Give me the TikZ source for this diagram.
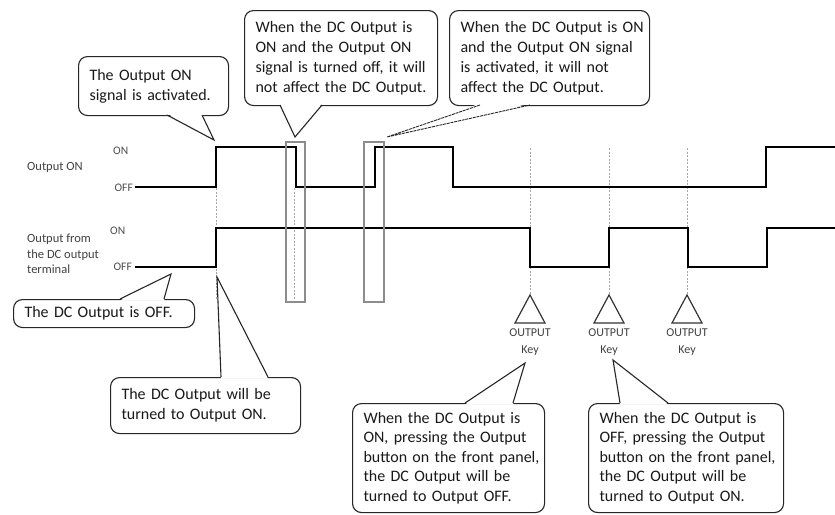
\documentclass[tikz,border=0pt]{standalone}
\usepackage{fontspec}
\setmainfont{Carlito}
\newcommand\cl[1]{\mbox{#1}}
\begin{document}
\begin{tikzpicture}[x=1pt,y=-1pt,
  sig/.style={line width=2.2pt, line join=miter},
  guide/.style={draw=black!35, line width=0.7pt, dash pattern=on 2pt off 1.5pt},
  hilite/.style={draw=black!45, line width=1.8pt},
  lvl/.style={font=\fontsize{11.5}{13}\selectfont, text=black!70, inner sep=0pt},
  rowlbl/.style={font=\fontsize{12.5}{15.5}\selectfont, text=black!75, align=left, inner sep=0pt},
  callbox/.style={draw=black!85, line width=1.1pt, rounded corners=9pt, align=left,
    font=\fontsize{16}{20}\selectfont, text=black!90, inner xsep=11pt, inner ysep=0pt,
    anchor=north west, fill=white},
  ptr/.style={draw=black!85, line width=1.1pt, line join=miter},
  ptrdash/.style={ptr, dash pattern=on 3pt off 0.8pt, line width=0.9pt},
  keytri/.style={draw=black!80, line width=1.2pt, line join=miter},
  keylbl/.style={font=\fontsize{12}{17}\selectfont, align=center, text=black!75, inner sep=0pt}
]
\useasboundingbox (0,0) rectangle (835,514);

% guide lines
\draw[guide] (216,188) -- (216,300);
\draw[guide] (294,188) -- (294,300);
\draw[guide] (530,148) -- (530,295);
\draw[guide] (609,148) -- (609,295);
\draw[guide] (687,148) -- (687,295);

% signals
\draw[sig] (135,187) -- (216,187) -- (216,147) -- (296,147) -- (296,187) -- (375,187)
  -- (375,147) -- (453,147) -- (453,187) -- (766,187) -- (766,147) -- (835,147);
\draw[sig] (135,267) -- (216,267) -- (216,228) -- (530,228) -- (530,267) -- (609,267)
  -- (609,228) -- (688,228) -- (688,267) -- (767,267) -- (767,228) -- (835,228);

% highlight rectangles
\draw[hilite] (286,142) rectangle (305,302);
\draw[hilite] (364,142) rectangle (384,302);

% level and row labels
\node[lvl, anchor=west] (on1) at (113,151) {ON};
\node[lvl, anchor=east] (off1) at (133,188) {OFF};
\node[rowlbl, anchor=west] (row1) at (27,167) {Output ON};
\node[lvl, anchor=west] (on2) at (110,231) {ON};
\node[lvl, anchor=east] (off2) at (132,267) {OFF};
\node[rowlbl, anchor=west] (row2) at (27,254) {Output from\\the DC output\\terminal};

% OUTPUT keys
\foreach \k/\x in {k1/530, k2/609, k3/687}{
  \coordinate (\k top) at (\x,295);
  \draw[keytri] (\k top) -- (\x-15,323) -- (\x+15,323) -- cycle;
  \node[keylbl] (\k lbl) at (\x,342) {OUTPUT\\Key};
}

% callout 1
\node[callbox, text width=128pt, minimum height=59pt] (c1) at (78,56)
  {\cl{The Output ON}\\\cl{signal is activated.}};
\coordinate (t1) at (214,140);
\fill[white] (167,113.5) -- (t1) -- (202,113.5) -- cycle;
\draw[ptr] (167,115) -- (t1) -- (202,115);

% callout 2
\node[callbox, text width=171pt, minimum height=95pt] (c2) at (244,10)
  {\cl{When the DC Output is}\\\cl{ON and the Output ON}\\\cl{signal is turned off, it will}\\\cl{not affect the DC Output.}};
\coordinate (t2) at (295,137);
\fill[white] (280,103.5) -- (t2) -- (322,103.5) -- cycle;
\draw[ptr] (280,105) -- (t2) -- (322,105);

% callout 3
\node[callbox, text width=178pt, minimum height=95pt] (c3) at (449,10)
  {\cl{When the DC Output is ON}\\\cl{and the Output ON signal}\\\cl{is activated, it will not}\\\cl{affect the DC Output.}};
\coordinate (t3) at (387,137);
\fill[white] (480,103.5) -- (t3) -- (530,103.5) -- cycle;
\draw[ptrdash] (480,105) -- (t3) -- (530,105);

% callout 4
\node[callbox, text width=159pt, minimum height=28pt] (c4) at (13,299)
  {\cl{The DC Output is OFF.}};
\coordinate (t4) at (171,274);
\fill[white] (120,300.5) -- (t4) -- (164,300.5) -- cycle;
\draw[ptr] (120,299) -- (t4) -- (164,299);

% callout 5
\node[callbox, text width=168pt, minimum height=56pt] (c5) at (110,377)
  {\cl{The DC Output will be}\\\cl{turned to Output ON.}};
\coordinate (t5) at (217,277);
\fill[white] (221,378.5) -- (t5) -- (268,378.5) -- cycle;
\draw[ptr] (221,377) -- (t5) -- (268,377);

% callout 6
\node[callbox, text width=170pt, minimum height=109pt, font=\fontsize{16}{19.5}\selectfont] (c6) at (352,403)
  {\cl{When the DC Output is}\\\cl{ON, pressing the Output}\\\cl{button on the front panel,}\\\cl{the DC Output will be}\\\cl{turned to Output OFF.}};
\coordinate (t6) at (525,363);
\fill[white] (465,404.5) -- (t6) -- (513,404.5) -- cycle;
\draw[ptr] (465,403) -- (t6) -- (513,403);

% callout 7
\node[callbox, text width=173pt, minimum height=109pt, font=\fontsize{16}{19.5}\selectfont] (c7) at (588,403)
  {\cl{When the DC Output is}\\\cl{OFF, pressing the Output}\\\cl{button on the front panel,}\\\cl{the DC Output will be}\\\cl{turned to Output ON.}};
\coordinate (t7) at (613,360);
\fill[white] (620,404.5) -- (t7) -- (668,404.5) -- cycle;
\draw[ptr] (620,403) -- (t7) -- (668,403);

\end{tikzpicture}
\end{document}
